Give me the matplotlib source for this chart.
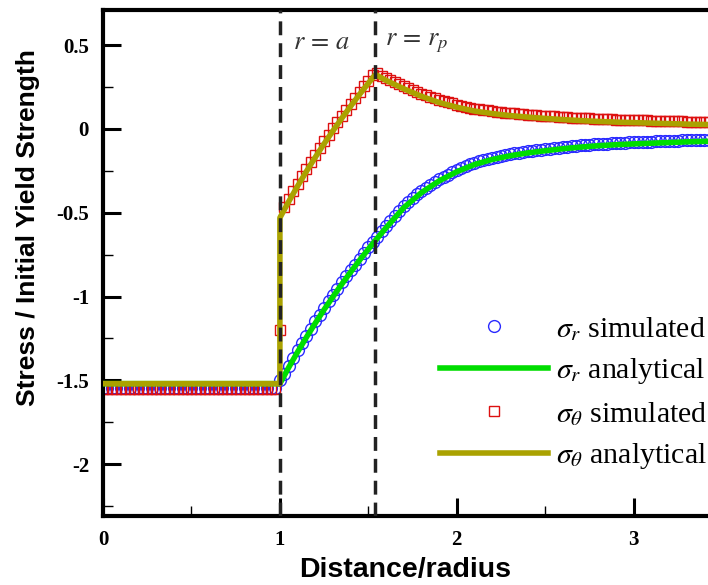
import matplotlib
matplotlib.use('Agg')
import matplotlib.pyplot as plt
import numpy as np
from matplotlib.ticker import MultipleLocator

plt.rcParams['mathtext.fontset'] = 'stix'

# simulated nodal values, one node every 0.025 in r/a starting at 0
r_step = 0.025
sr_sim = ([-1.545] * 40 + [-1.50] +
          [-1.461, -1.413, -1.367, -1.321, -1.277, -1.233, -1.191, -1.149, -1.108, -1.068,
           -1.029, -0.991, -0.953, -0.916, -0.880, -0.844, -0.809, -0.774, -0.741, -0.707,
           -0.675] +
          [-0.642, -0.611, -0.580, -0.549, -0.518, -0.489, -0.460, -0.436, -0.413, -0.391,
           -0.370, -0.352, -0.334, -0.317, -0.300, -0.286, -0.272, -0.258, -0.245, -0.234,
           -0.223, -0.212, -0.202, -0.194, -0.187, -0.179, -0.172, -0.166, -0.161, -0.155,
           -0.150, -0.146, -0.141, -0.137, -0.133, -0.130, -0.126, -0.123, -0.120, -0.117,
           -0.114, -0.111, -0.108, -0.105, -0.103, -0.100, -0.098, -0.096, -0.094, -0.092,
           -0.090, -0.088, -0.087, -0.085, -0.084, -0.083, -0.081, -0.080, -0.079, -0.078,
           -0.077, -0.076, -0.075, -0.074, -0.073, -0.072, -0.071, -0.070, -0.069, -0.068,
           -0.067, -0.066, -0.065, -0.065, -0.064, -0.063])
st_sim = ([-1.555] * 40 + [-1.20] +
          [-0.466, -0.418, -0.372, -0.326, -0.282, -0.238, -0.196, -0.154, -0.113, -0.073,
           -0.034, 0.004, 0.042, 0.079, 0.115, 0.151, 0.186, 0.221, 0.254, 0.288,
           0.320] +
          [0.334, 0.319, 0.305, 0.292, 0.279, 0.267, 0.255, 0.243, 0.232, 0.221,
           0.210, 0.200, 0.191, 0.182, 0.173, 0.166, 0.159, 0.152, 0.145, 0.139,
           0.133, 0.127, 0.122, 0.118, 0.114, 0.111, 0.107, 0.104, 0.101, 0.098,
           0.095, 0.093, 0.091, 0.088, 0.086, 0.084, 0.082, 0.080, 0.078, 0.076,
           0.075, 0.073, 0.071, 0.070, 0.068, 0.067, 0.065, 0.064, 0.063, 0.061,
           0.060, 0.059, 0.058, 0.057, 0.056, 0.055, 0.054, 0.054, 0.053, 0.052,
           0.051, 0.051, 0.050, 0.049, 0.048, 0.048, 0.047, 0.046, 0.046, 0.045,
           0.044, 0.044, 0.043, 0.043, 0.042, 0.042])
r_sim = np.arange(len(sr_sim)) * r_step

# analytical solution (r/a = 1 appears twice for the hoop stress jump)
r_ana = [0.0, 1.0, 1.0, 1.05, 1.1, 1.15, 1.2, 1.25, 1.3, 1.35, 1.4, 1.45, 1.5, 1.54,
         1.6, 1.7, 1.8, 1.9, 2.0, 2.1, 2.2, 2.3, 2.4, 2.5, 2.6, 2.7, 2.8, 2.9, 3.0,
         3.1, 3.2, 3.3, 3.4, 3.5]
sr_ana = [-1.52, -1.52, -1.52, -1.423, -1.331, -1.243, -1.159, -1.078, -1.001, -0.926,
          -0.854, -0.784, -0.717, -0.665, -0.59, -0.47, -0.38, -0.31, -0.255, -0.212,
          -0.182, -0.16, -0.143, -0.13, -0.118, -0.108, -0.100, -0.094, -0.089, -0.085,
          -0.081, -0.077, -0.074, -0.071]
st_ana = [-1.52, -1.52, -0.53, -0.433, -0.341, -0.253, -0.169, -0.088, -0.011, 0.064,
          0.136, 0.206, 0.273, 0.325, 0.29, 0.24, 0.195, 0.158, 0.13, 0.107,
          0.092, 0.08, 0.071, 0.063, 0.056, 0.05, 0.045, 0.041, 0.038, 0.035,
          0.032, 0.029, 0.027, 0.025]

r_a = 1.0
r_p = 1.54

fig = plt.figure(figsize=(7.08, 5.85), dpi=100)
ax = fig.add_axes([103 / 708, 1 - 516 / 585, 605 / 708, 506 / 585])

h1, = ax.plot(r_sim, sr_sim, 'o', ms=8.5, mfc='none', mec='#2a2aff', mew=1.0, zorder=2)
h3, = ax.plot(r_sim, st_sim, 's', ms=6.6, mfc='none', mec='#dd1010', mew=1.0, zorder=2)
h2, = ax.plot(r_ana, sr_ana, '-', color='#00dd00', lw=4, zorder=3)
h4, = ax.plot(r_ana, st_ana, '-', color='#aaa200', lw=4, zorder=3)

for xv in (r_a, r_p):
    ax.axvline(xv, color='#222222', lw=2.5, dashes=(4, 2.3), zorder=5)

ax.text(1.235, 0.52, r'$r\,=\,a$', fontsize=19, color='#333333', ha='center', va='center')
ax.text(1.775, 0.52, r'$r\,=\,r_p$', fontsize=19, color='#333333', ha='center', va='center')

ax.set_xlim(0, 3.42)
ax.set_ylim(-2.31, 0.71)

ax.xaxis.set_major_locator(MultipleLocator(1))
ax.xaxis.set_minor_locator(MultipleLocator(0.5))
ax.yaxis.set_major_locator(MultipleLocator(0.5))
ax.yaxis.set_minor_locator(MultipleLocator(0.25))
ax.yaxis.set_major_formatter(plt.FuncFormatter(lambda v, p: '%g' % v))

ax.tick_params(which='major', direction='in', length=13, width=2.2, pad=10)
ax.tick_params(which='minor', direction='in', length=7, width=1)
for lab in ax.get_xticklabels() + ax.get_yticklabels():
    lab.set_fontfamily('Liberation Serif')
    lab.set_fontweight('bold')
    lab.set_fontsize(15)

for side in ('left', 'bottom', 'top'):
    ax.spines[side].set_linewidth(3)
ax.spines['right'].set_visible(False)

ax.set_xlabel('Distance/radius', fontfamily='Liberation Sans', fontweight='bold',
              fontsize=20.5, labelpad=5)
ax.set_ylabel('Stress / Initial Yield Strength', fontfamily='Liberation Sans',
              fontweight='bold', fontsize=19)
ax.yaxis.set_label_coords(-0.104, 0.57)

leg = ax.legend([h1, h2, h3, h4],
                [r'$\sigma_r$ simulated', r'$\sigma_r$ analytical',
                 r'$\sigma_\theta$ simulated', r'$\sigma_\theta$ analytical'],
                loc='center left', bbox_to_anchor=(440 / 708, 1 - 393 / 585),
                bbox_transform=fig.transFigure, frameon=False, borderpad=0,
                borderaxespad=0, handlelength=3.6, handletextpad=0.27,
                labelspacing=0.45, prop={'family': 'Liberation Serif', 'size': 21.5})

fig.savefig('out.png', dpi=100)
